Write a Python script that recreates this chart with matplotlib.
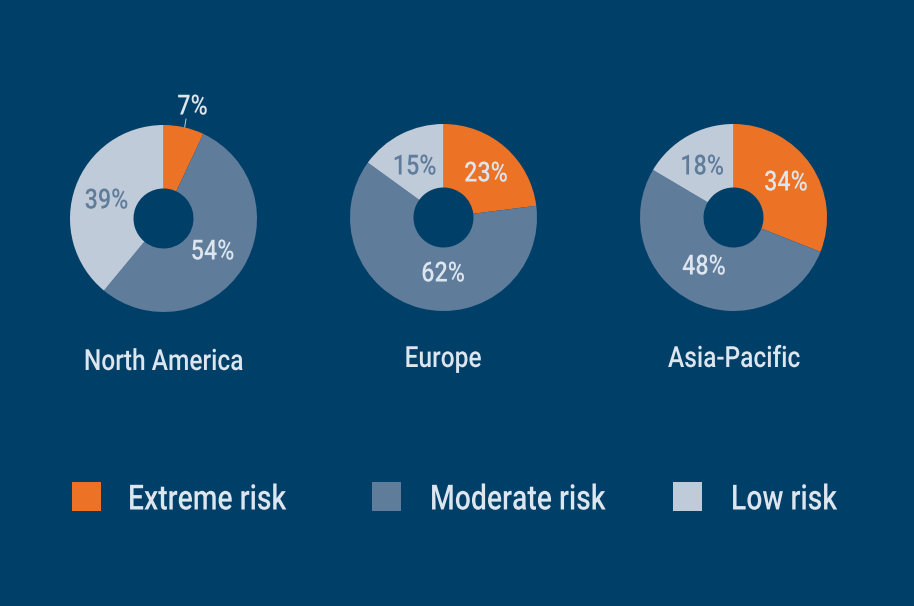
import matplotlib
matplotlib.use('Agg')
import matplotlib.pyplot as plt
import matplotlib.patheffects as pe
from matplotlib.patches import Rectangle
from matplotlib.lines import Line2D
from matplotlib.transforms import Affine2D

W, H = 914, 606
BG = '#004068'
ORANGE = '#EC7225'
MID = '#5F7C9B'
LIGHT = '#C0CBD9'
TEXT = '#DDE5EE'

regions = ['North America', 'Europe', 'Asia-Pacific']
risk_levels = ['Extreme risk', 'Moderate risk', 'Low risk']

# printed percentages
north_america = [7, 54, 39]
europe = [23, 62, 15]
asia_pacific = [34, 48, 18]

# slice sizes as drawn (Asia-Pacific is not drawn to its printed numbers)
north_america_slices = [7, 54, 39]
europe_slices = [23, 62, 15]
asia_pacific_slices = [31, 52.5, 16.5]

plt.rcParams['font.family'] = ['Roboto', 'DejaVu Sans']

colors = [ORANGE, MID, LIGHT]
centers = [(163.5, 218.5), (443.5, 217.5), (733.5, 217.5)]
radius = 93.5
hole = 30

# label positions in pixels, one row per pie
value_pos = [[(192.5, 107), (212.5, 252), (106.5, 201)],
             [(486, 174), (443, 274), (414.5, 167)],
             [(786, 183), (704, 267), (702, 167)]]
value_colors = [TEXT, TEXT, MID]
title_pos = [(163.5, 362), (443, 359), (734, 359)]
legend_x = [72, 372, 673]
legend_text_x = [128, 430, 731]


class Narrow(pe.AbstractPathEffect):
    # no condensed font installed, so squeeze the glyphs sideways
    def __init__(self, sx, centered=True):
        super().__init__()
        self.sx = sx
        self.centered = centered

    def draw_path(self, renderer, gc, tpath, affine, rgbFace=None):
        mid = 0
        if self.centered:
            box = tpath.get_extents()
            mid = (box.x0 + box.x1) / 2
        squeeze = Affine2D().translate(-mid, 0).scale(self.sx, 1).translate(mid, 0)
        renderer.draw_path(gc, tpath, squeeze + affine, rgbFace)


def px(x, y):
    # reference pixels to figure fraction
    return x / W, 1 - y / H


fig = plt.figure(figsize=(W / 100, H / 100), dpi=100, facecolor=BG)

for vals, c in zip([north_america_slices, europe_slices, asia_pacific_slices], centers):
    x0, y0 = px(c[0] - radius, c[1] + radius)
    ax = fig.add_axes([x0, y0, 2 * radius / W, 2 * radius / H])
    ax.pie(vals, colors=colors, startangle=90, counterclock=False, radius=1,
           wedgeprops={'width': 1 - hole / radius, 'linewidth': 0})
    ax.set_xlim(-1, 1)
    ax.set_ylim(-1, 1)
    ax.axis('off')

for row, vals in zip(value_pos, [north_america, europe, asia_pacific]):
    for (x, y), v, col in zip(row, vals, value_colors):
        fx, fy = px(x, y)
        fig.text(fx, fy, '%d%%' % v, color=col, fontsize=20, fontweight='medium',
                 ha='center', va='center', path_effects=[Narrow(0.84)])

# leader line for the small slice
x1, y1 = px(186, 119)
x2, y2 = px(184.7, 127)
fig.add_artist(Line2D([x1, x2], [y1, y2], color=LIGHT, lw=0.7))

for name, (x, y) in zip(regions, title_pos):
    fx, fy = px(x, y)
    fig.text(fx, fy, name, color=TEXT, fontsize=21, fontweight='medium', ha='center', va='center',
             path_effects=[Narrow(0.84)])

for level, col, bx, tx in zip(risk_levels, colors, legend_x, legend_text_x):
    fx, fy = px(bx, 511)
    fig.add_artist(Rectangle((fx, fy), 29 / W, 29 / H, color=col, lw=0,
                             transform=fig.transFigure))
    fx, fy = px(tx, 500)
    fig.text(fx, fy, level, color=TEXT, fontsize=25, fontweight='medium', ha='left', va='center',
             path_effects=[Narrow(0.815, centered=False)])

fig.savefig('out.png', dpi=100, facecolor=BG)
